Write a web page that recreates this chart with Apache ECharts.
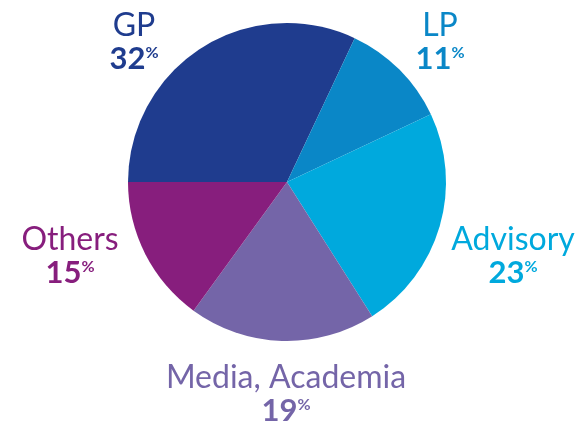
<!DOCTYPE html>
<html>
<head>
<meta charset="utf-8">
<script src="https://cdn.jsdelivr.net/npm/echarts@6/dist/echarts.min.js"></script>
<style>
  html, body { margin: 0; padding: 0; background: #fff; }
  #chart { width: 580px; height: 423px; }
</style>
</head>
<body>
<div id="chart"></div>
<script>
const categories = ['GP', 'LP', 'Advisory', 'Media, Academia', 'Others']
const shares = [32, 11, 23, 19, 15]
const colors = ['#1f3c8e', '#0a87c7', '#00a9dd', '#7465a8', '#871e7d']
// where each label sits (centre of the text block)
const labelSpots = [[134, 42], [440, 42], [513, 256], [286, 394], [70, 256]]

const chart = echarts.init(document.getElementById('chart'))

const option = {
  animation: false,
  series: [{
    type: 'pie',
    center: [287, 182],
    radius: 159,
    startAngle: 180,
    clockwise: true,
    data: categories.map((name, i) => ({
      name,
      value: shares[i],
      itemStyle: { color: colors[i] },
      label: {
        rich: {
          n: { color: colors[i], fontSize: 32, fontFamily: 'Lato', lineHeight: 34 },
          v: { color: colors[i], fontSize: 31, fontWeight: 'bold', fontFamily: 'Lato', lineHeight: 32 },
          p: { color: colors[i], fontSize: 16, fontWeight: 'bold', fontFamily: 'Lato', padding: [0, 0, 12, 0] }
        }
      }
    })),
    label: {
      show: true,
      position: 'outside',
      align: 'center',
      overflow: 'none',
      width: 400,
      formatter: p => '{n|' + p.name + '}\n{v|' + p.value + '}{p|%}'
    },
    labelLine: { show: false },
    labelLayout: p => ({
      x: labelSpots[p.dataIndex][0],
      y: labelSpots[p.dataIndex][1],
      align: 'center',
      verticalAlign: 'middle'
    }),
    emphasis: { disabled: true }
  }]
}

chart.setOption(option)
window.addEventListener('resize', () => chart.resize())
</script>
</body>
</html>
